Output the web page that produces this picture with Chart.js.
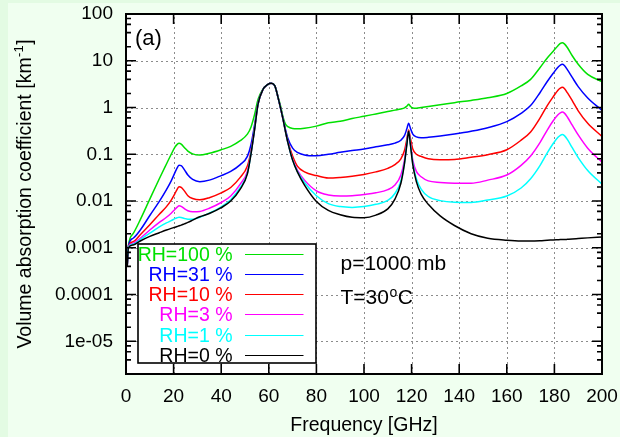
<!DOCTYPE html>
<html><head><meta charset="utf-8">
<script src="https://cdn.jsdelivr.net/npm/chart.js@4.4.1/dist/chart.umd.min.js"></script>
<style>html,body{margin:0;padding:0;background:#f0fff0;}canvas{display:block;}</style>
</head><body>
<canvas id="c" width="620" height="437"></canvas>
<script>
// ---- data ----
const freqGHz = [0.5,1,3,6,10,14,17,19,20.5,21.5,22.3,23.2,24.5,26,28,31,35,40,44,48,51,52.5,54,55.5,57.5,59.5,61,62.5,64,65,66,67,68,70,72,75,80,85,90,95,100,105,110,113,115.5,117,118,118.75,119.5,120.5,122,124,127,132,138,145,152,160,166,170,174,177,179.5,181.5,182.5,183.3,184.2,185.5,187.5,190,194,200];
const rh100 = [4e-4,1.1e-3,2.0e-3,4.0e-3,0.011,0.03,0.062,0.1,0.14,0.163,0.172,0.165,0.14,0.117,0.102,0.096,0.105,0.125,0.148,0.195,0.27,0.38,0.7,1.5,2.45,3.1,3.3,2.95,1.6,1.05,0.62,0.44,0.39,0.355,0.35,0.36,0.4,0.47,0.51,0.58,0.65,0.73,0.82,0.88,0.93,0.98,1.07,1.17,1.06,0.98,0.97,1.0,1.05,1.14,1.27,1.42,1.62,2.0,2.9,4.0,7.2,11.5,16,21,23.5,24.4,23,19,12.8,8.4,5.1,3.6];
const rh31 = [4e-4,1.08e-3,1.6e-3,2.4e-3,4.9e-3,0.0098,0.0175,0.027,0.04,0.051,0.058,0.057,0.047,0.036,0.029,0.026,0.028,0.035,0.043,0.06,0.09,0.16,0.42,1.25,2.4,3.1,3.3,2.95,1.55,0.95,0.57,0.34,0.22,0.135,0.11,0.097,0.093,0.1,0.11,0.12,0.13,0.145,0.16,0.173,0.2,0.25,0.35,0.46,0.36,0.27,0.235,0.225,0.23,0.245,0.27,0.31,0.37,0.5,0.75,1.1,2.1,3.6,5.4,7.3,8.1,8.4,7.9,6.4,4.4,2.8,1.6,0.87];
const rh10 = [4e-4,1.05e-3,1.35e-3,1.9e-3,3.1e-3,5.2e-3,7.6e-3,0.0105,0.0143,0.0178,0.0202,0.0197,0.0165,0.013,0.0113,0.0106,0.0118,0.015,0.0195,0.032,0.056,0.115,0.36,1.22,2.4,3.1,3.3,2.95,1.55,0.95,0.56,0.31,0.19,0.092,0.056,0.042,0.035,0.031,0.032,0.034,0.037,0.042,0.05,0.06,0.08,0.12,0.21,0.33,0.22,0.13,0.1,0.09,0.08,0.076,0.077,0.086,0.098,0.125,0.2,0.3,0.6,1.1,1.7,2.35,2.6,2.7,2.55,2.05,1.4,0.85,0.46,0.24];
const rh3 = [4e-4,1.04e-3,1.25e-3,1.6e-3,2.4e-3,3.5e-3,4.5e-3,5.5e-3,6.6e-3,7.4e-3,7.9e-3,7.7e-3,6.9e-3,6.2e-3,5.9e-3,6.0e-3,7.0e-3,9.3e-3,0.0128,0.023,0.043,0.105,0.34,1.2,2.4,3.1,3.3,2.95,1.55,0.95,0.56,0.31,0.18,0.078,0.046,0.028,0.0165,0.0135,0.0128,0.013,0.0138,0.015,0.0175,0.022,0.036,0.075,0.175,0.31,0.175,0.075,0.043,0.033,0.027,0.025,0.024,0.024,0.028,0.036,0.058,0.092,0.18,0.33,0.52,0.7,0.77,0.8,0.76,0.62,0.42,0.26,0.135,0.068];
const rh1 = [4e-4,1.03e-3,1.2e-3,1.5e-3,2.05e-3,2.8e-3,3.4e-3,3.8e-3,4.2e-3,4.4e-3,4.5e-3,4.45e-3,4.25e-3,4.1e-3,4.1e-3,4.5e-3,5.5e-3,7.5e-3,0.0107,0.0195,0.039,0.102,0.335,1.2,2.4,3.1,3.3,2.95,1.55,0.95,0.56,0.31,0.18,0.076,0.043,0.025,0.013,0.0088,0.0076,0.0073,0.0076,0.0085,0.0103,0.0145,0.027,0.065,0.165,0.31,0.165,0.065,0.03,0.018,0.0125,0.0102,0.0094,0.0093,0.0105,0.0128,0.019,0.03,0.058,0.107,0.17,0.23,0.255,0.265,0.25,0.205,0.138,0.085,0.045,0.023];
const rh0 = [4e-4,1.0e-3,1.15e-3,1.4e-3,1.75e-3,2.1e-3,2.4e-3,2.6e-3,2.75e-3,2.85e-3,2.95e-3,3.05e-3,3.25e-3,3.5e-3,3.9e-3,4.6e-3,5.4e-3,7.2e-3,0.01,0.018,0.038,0.1,0.33,1.2,2.4,3.1,3.3,2.95,1.55,0.95,0.56,0.31,0.18,0.075,0.042,0.022,0.0098,0.0063,0.0051,0.0045,0.0044,0.005,0.0068,0.011,0.024,0.063,0.16,0.31,0.16,0.06,0.026,0.014,0.0085,0.0048,0.003,0.002,0.0016,0.00145,0.0014,0.0014,0.00142,0.00145,0.00147,0.00149,0.0015,0.0015,0.0015,0.00152,0.00155,0.00158,0.00163,0.0017];

const seriesLabels = ["RH=100 %","RH=31 %","RH=10 %","RH=3 %","RH=1 %","RH=0 %"];
const seriesValues = [rh100, rh31, rh10, rh3, rh1, rh0];
const seriesColors = ["#00e000","#0000ff","#ff0000","#ff00ff","#00ffff","#000000"];

const xTickValues = [0,20,40,60,80,100,120,140,160,180,200];
const yTickValues = [1e-5,1e-4,1e-3,1e-2,0.1,1,10,100];
const yTickLabels = ["1e-05","0.0001","0.001","0.01","0.1","1","10","100"];
const xTitle = "Frequency [GHz]";
const yTitleMain = "Volume absorption coefficient [km";
const yTitleSup = "-1";
const yTitleEnd = "]";
const panelLabel = "(a)";
const noteP = "p=1000 mb";
const noteT = ["T=30", "o", "C"];

const FONT = "'Liberation Sans', Arial, Helvetica, sans-serif";

const deco = {
  id: 'deco',
  beforeDraw(chart) {
    const {ctx, chartArea: a} = chart;
    ctx.save();
    ctx.fillStyle = '#f0fff0';
    ctx.fillRect(0, 0, chart.width, chart.height);
    ctx.fillStyle = '#e3fbe3';
    ctx.fillRect(0, 0, 8, chart.height);
    ctx.fillRect(0, 0, chart.width, 3);
    ctx.fillStyle = '#ffffff';
    ctx.fillRect(a.left, a.top, a.right - a.left, a.bottom - a.top);
    ctx.restore();
  },
  beforeDatasetsDraw(chart) {
    const {ctx, chartArea: a, scales: {x, y}} = chart;
    ctx.save();
    ctx.strokeStyle = '#8c8c8c';
    ctx.lineWidth = 1;
    ctx.setLineDash([2, 3]);
    xTickValues.forEach(v => {
      if (v <= x.min || v >= x.max) return;
      const px = Math.round(x.getPixelForValue(v)) + 0.5;
      ctx.beginPath(); ctx.moveTo(px, a.bottom); ctx.lineTo(px, a.top); ctx.stroke();
    });
    yTickValues.forEach(v => {
      if (v >= y.max) return;
      const py = Math.round(y.getPixelForValue(v)) + 0.5;
      ctx.beginPath(); ctx.moveTo(a.left, py); ctx.lineTo(a.right, py); ctx.stroke();
    });
    ctx.restore();
  },
  afterDatasetsDraw(chart) {
    const {ctx, chartArea: a, scales: {x, y}} = chart;
    ctx.save();
    ctx.setLineDash([]);
    // ticks (inward, mirrored)
    ctx.strokeStyle = '#000';
    ctx.lineWidth = 1.6;
    ctx.beginPath();
    xTickValues.forEach(v => {
      const px = x.getPixelForValue(v);
      ctx.moveTo(px, a.bottom); ctx.lineTo(px, a.bottom - 10);
      ctx.moveTo(px, a.top); ctx.lineTo(px, a.top + 10);
    });
    yTickValues.forEach(v => {
      const py = y.getPixelForValue(v);
      ctx.moveTo(a.left, py); ctx.lineTo(a.left + 10, py);
      ctx.moveTo(a.right, py); ctx.lineTo(a.right - 10, py);
    });
    for (let k = -6; k <= 1; k++) {
      [2, 4, 6, 8].forEach(m => {
        const v = m * Math.pow(10, k);
        if (v <= y.min * 1.0001 || v >= y.max) return;
        const py = y.getPixelForValue(v);
        ctx.moveTo(a.left, py); ctx.lineTo(a.left + 5, py);
        ctx.moveTo(a.right, py); ctx.lineTo(a.right - 5, py);
      });
    }
    ctx.stroke();
    // border
    ctx.lineWidth = 2;
    ctx.strokeRect(a.left, a.top, a.right - a.left, a.bottom - a.top);

    // legend box
    const bx0 = a.left + 12, by0 = a.top + 230, bx1 = a.left + 190, by1 = a.top + 349;
    ctx.fillStyle = '#ffffff';
    ctx.fillRect(bx0, by0, bx1 - bx0, by1 - by0);
    ctx.lineWidth = 1.6;
    ctx.strokeStyle = '#000';
    ctx.strokeRect(bx0, by0, bx1 - bx0, by1 - by0);
    ctx.font = '19.5px ' + FONT;
    ctx.textAlign = 'right';
    ctx.textBaseline = 'alphabetic';
    seriesLabels.forEach((lab, k) => {
      const base = a.top + 246.7 + k * 20.2;
      ctx.fillStyle = seriesColors[k];
      ctx.fillText(lab, a.left + 106.5, base);
      ctx.strokeStyle = seriesColors[k];
      ctx.lineWidth = 1;
      ctx.beginPath();
      ctx.moveTo(a.left + 119, Math.round(base - 7) + 0.5);
      ctx.lineTo(a.left + 177.5, Math.round(base - 7) + 0.5);
      ctx.stroke();
    });

    // annotations
    ctx.fillStyle = '#000';
    ctx.textAlign = 'left';
    ctx.font = '22px ' + FONT;
    ctx.fillText(panelLabel, a.left + 9, a.top + 31);
    ctx.font = '21px ' + FONT;
    ctx.fillText(noteP, a.left + 214.5, a.top + 256);
    let tx = a.left + 214.5;
    const ty = a.top + 290;
    ctx.fillText(noteT[0], tx, ty);
    tx += ctx.measureText(noteT[0]).width;
    ctx.font = '14px ' + FONT;
    ctx.fillText(noteT[1], tx + 0.5, ty - 7);
    tx += ctx.measureText(noteT[1]).width + 1;
    ctx.font = '21px ' + FONT;
    ctx.fillText(noteT[2], tx, ty);

    // axis titles
    ctx.font = '19.5px ' + FONT;
    ctx.textAlign = 'center';
    ctx.fillText(xTitle, (a.left + a.right) / 2, 431);

    ctx.translate(31, (a.top + a.bottom) / 2);
    ctx.rotate(-Math.PI / 2);
    ctx.textAlign = 'left';
    ctx.font = '19.5px ' + FONT;
    const w1 = ctx.measureText(yTitleMain).width;
    ctx.font = '13px ' + FONT;
    const w2 = ctx.measureText(yTitleSup).width;
    ctx.font = '19.5px ' + FONT;
    const w3 = ctx.measureText(yTitleEnd).width;
    let sx = -(w1 + w2 + w3 + 1) / 2;
    ctx.fillText(yTitleMain, sx, 0);
    sx += w1 + 0.5;
    ctx.font = '13px ' + FONT;
    ctx.fillText(yTitleSup, sx, -8);
    sx += w2 + 0.5;
    ctx.font = '19.5px ' + FONT;
    ctx.fillText(yTitleEnd, sx, 0);
    ctx.restore();
  }
};

const datasets = seriesLabels.map((lab, k) => ({
  label: lab,
  data: freqGHz.map((f, i) => ({x: f, y: seriesValues[k][i]})),
  borderColor: seriesColors[k],
  backgroundColor: seriesColors[k],
  borderWidth: 1.5,
  pointRadius: 0,
  fill: false,
  cubicInterpolationMode: 'monotone',
  order: seriesLabels.length - k
}));

new Chart(document.getElementById('c'), {
  type: 'line',
  data: {datasets},
  options: {
    responsive: false,
    devicePixelRatio: 1,
    animation: false,
    layout: {padding: {left: 0, right: 18, top: 14, bottom: 0}},
    plugins: {legend: {display: false}, tooltip: {enabled: false}, title: {display: false}},
    scales: {
      x: {
        type: 'linear', min: 0, max: 200,
        afterFit(s) { s.height = 63; s.paddingLeft = 0; s.paddingRight = 0; },
        afterBuildTicks(s) { s.ticks = xTickValues.map(v => ({value: v})); },
        ticks: {font: {family: FONT, size: 19}, color: '#000', padding: 11, maxRotation: 0, autoSkip: false},
        grid: {display: false, drawTicks: false},
        border: {display: false}
      },
      y: {
        type: 'logarithmic', min: 2e-6, max: 100,
        afterFit(s) { s.width = 126; s.paddingTop = 0; s.paddingBottom = 0; },
        afterBuildTicks(s) { s.ticks = yTickValues.map(v => ({value: v})); },
        ticks: {
          font: {family: FONT, size: 19}, color: '#000', padding: 13, autoSkip: false,
          callback(v) {
            const i = yTickValues.findIndex(t => Math.abs(Math.log10(t) - Math.log10(v)) < 1e-6);
            return i >= 0 ? yTickLabels[i] : '';
          }
        },
        grid: {display: false, drawTicks: false},
        border: {display: false}
      }
    }
  },
  plugins: [deco]
});
</script>
</body></html>
